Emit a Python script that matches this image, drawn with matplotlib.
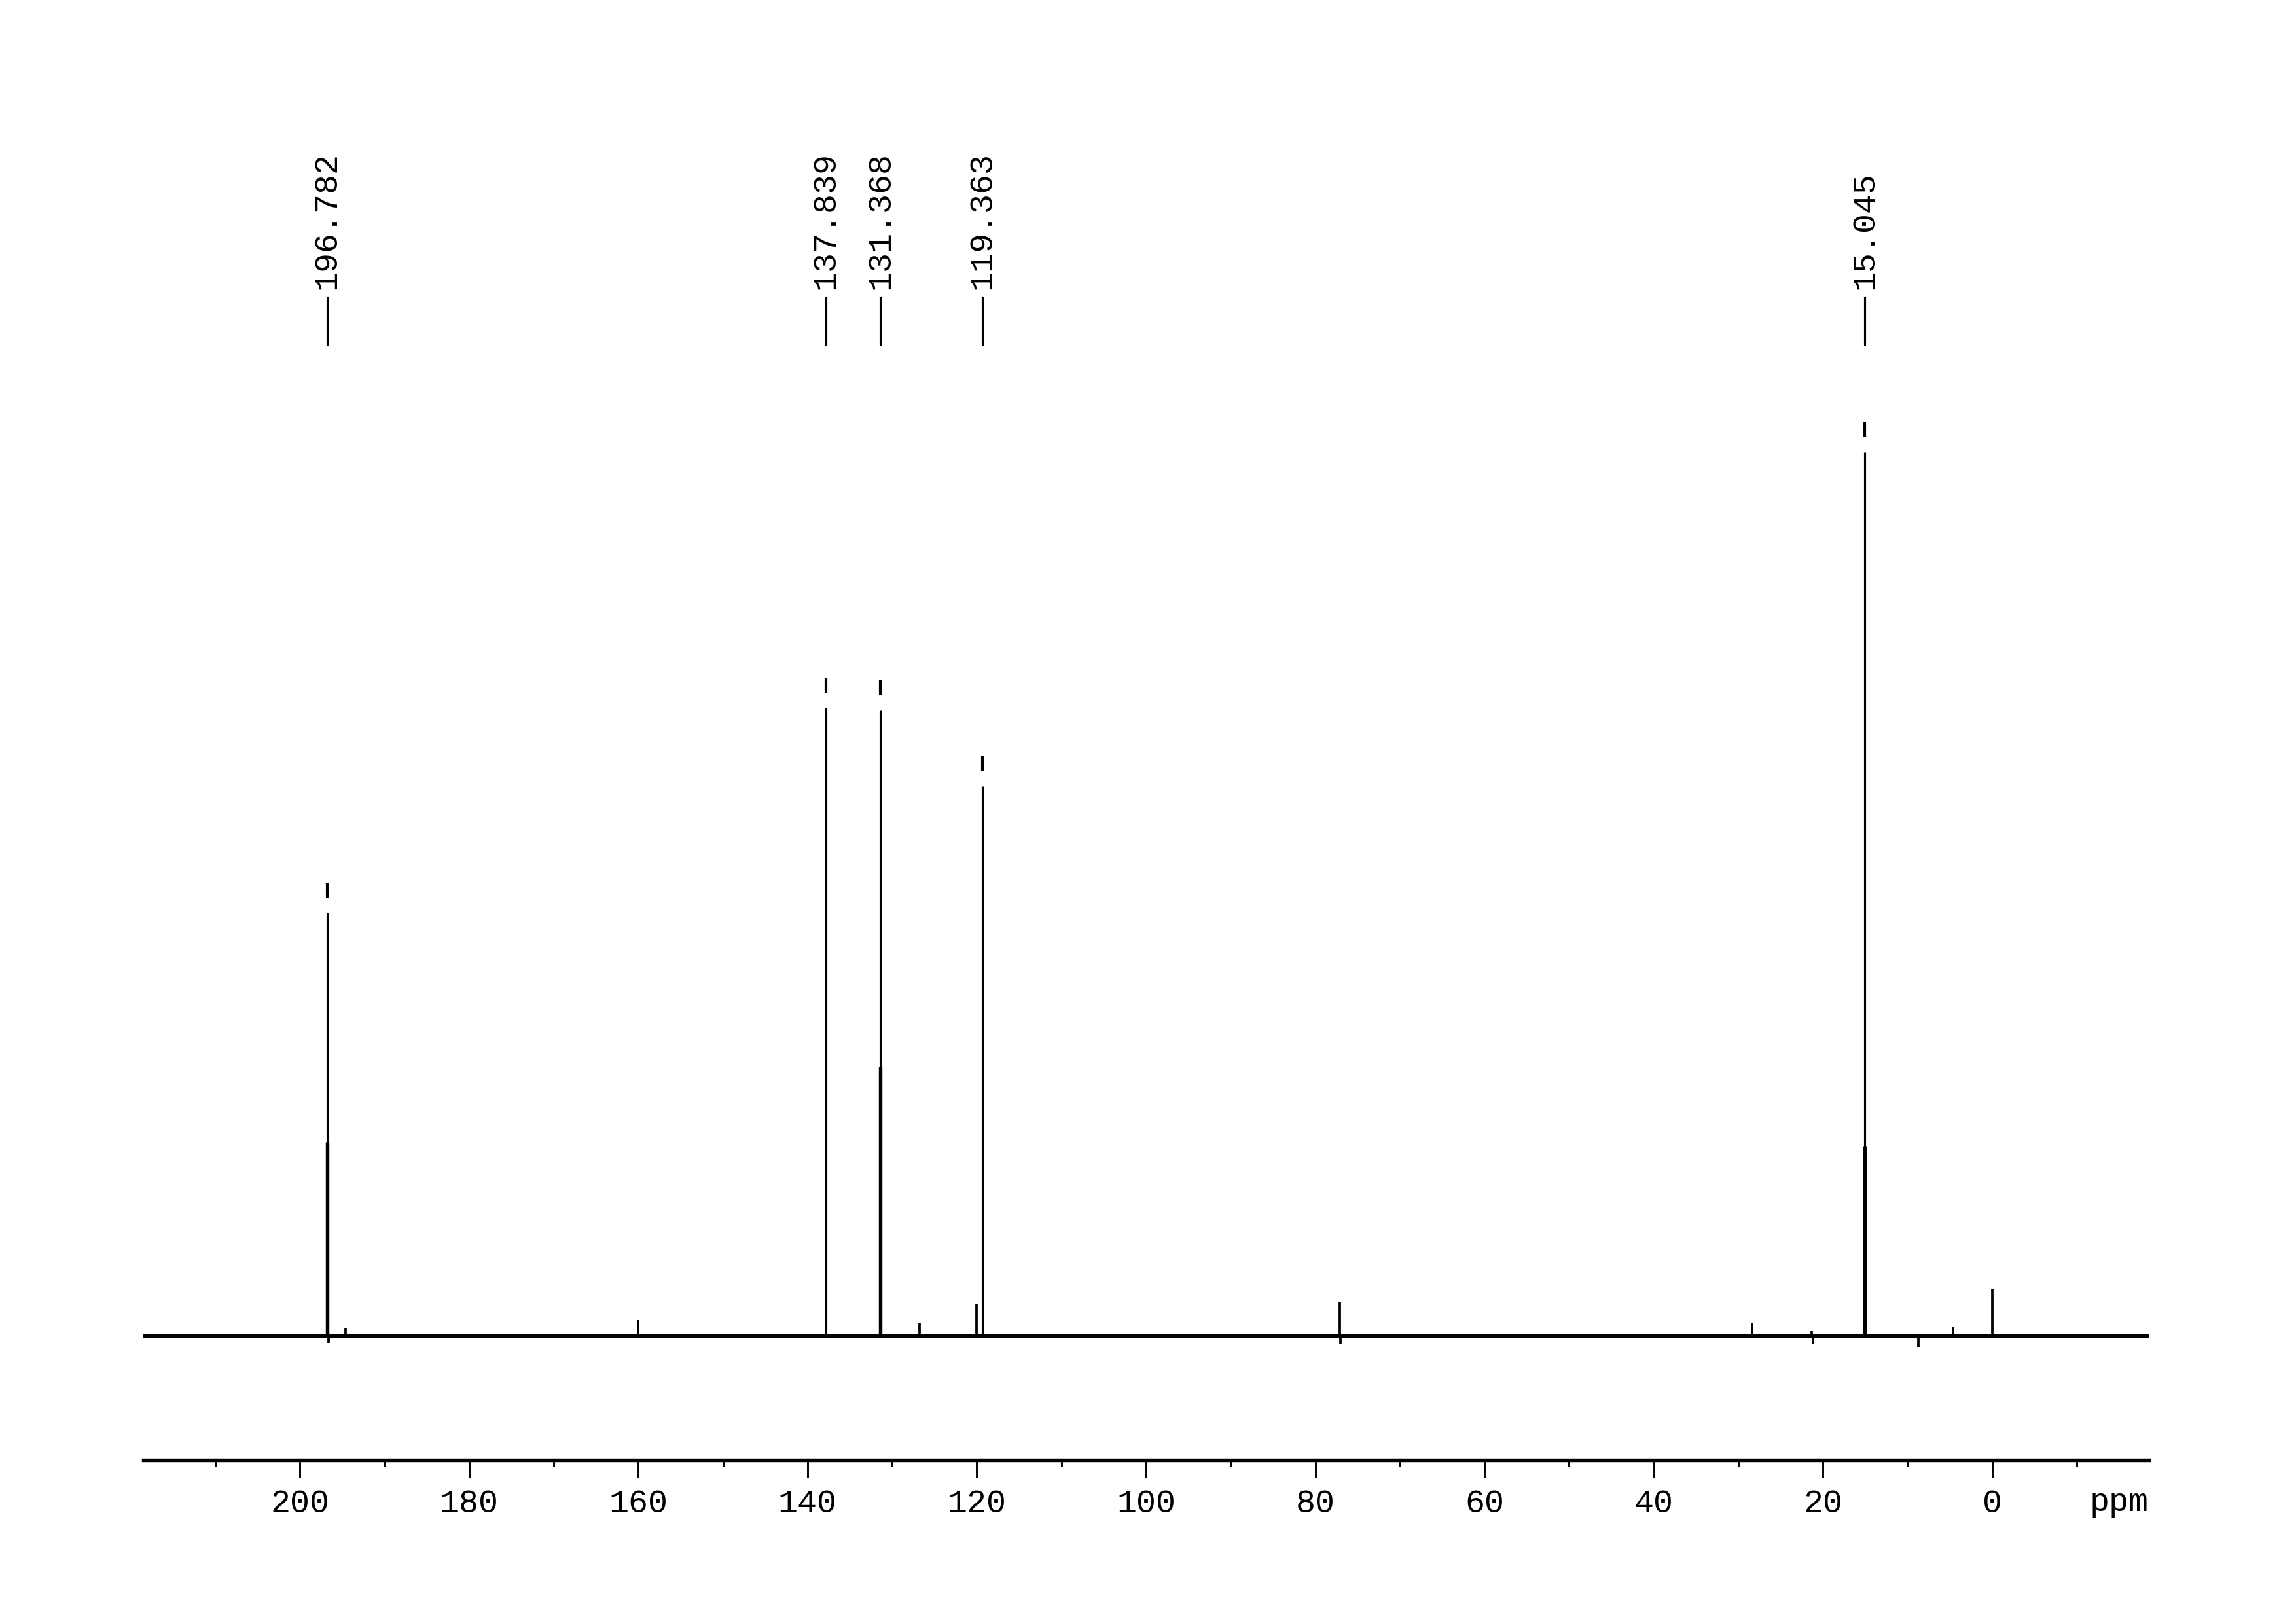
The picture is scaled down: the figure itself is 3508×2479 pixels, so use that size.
import matplotlib
matplotlib.use("Agg")
import matplotlib.pyplot as plt
import matplotlib.transforms as mtransforms
from matplotlib.ticker import MultipleLocator

plt.rcParams["font.family"] = ["Liberation Mono", "DejaVu Sans Mono"]

## Podaci (ocitano sa slike, intenzitet: najvisi pik = 100) ##########

# obelezeni pikovi
peak_ppm = [196.782, 137.839, 131.368, 119.363, 15.045]
peak_int = [47.9, 71.1, 70.8, 62.2, 100.0]

# donji, deblji deo glavnih pikova
base_ppm = [196.782, 131.368, 15.045]
base_int = [21.9, 30.5, 21.4]

# sitni pikovi i negativni "propadi" bazne linije
small_ppm = [196.6, 194.6, 160.0, 126.8, 120.0, 77.1, 77.0, 28.4, 21.2, 21.3, 8.7, 4.6, 0.0]
small_int = [-0.9, 0.8, 1.8, 1.4, 3.6, 3.8, -1.0, 1.4, -1.0, 0.5, -1.3, 1.0, 5.3]

# opseg ose (ppm)
x_left, x_right = 218.5, -18.5

## Grafik ############################

W, H, dpi = 3508, 2479, 300
fig = plt.figure(figsize=(W / dpi, H / dpi), dpi=dpi)

# pozicija ose u pikselima: levo 219, desno 3283, dole 2230, gore 400
ax = fig.add_axes([219 / W, (H - 2230) / H, (3283 - 219) / W, (2230 - 400) / H])

px_per_unit = 13.49
ax.set_xlim(x_left, x_right)
ax.set_ylim(-190 / px_per_unit, 1640 / px_per_unit)

ax.axhline(0, color="k", lw=1.3)
ax.vlines(base_ppm, 0, base_int, color="k", lw=1.3)
ax.vlines(peak_ppm, 0, peak_int, color="k", lw=0.75)
ax.vlines(small_ppm, 0, small_int, color="k", lw=0.9)

# kratka oznaka iznad vrha pika
ax.vlines(peak_ppm, [h + 1.7 for h in peak_int], [h + 3.4 for h in peak_int],
          color="k", lw=1.0)

# oznake pikova na vrhu
trans = mtransforms.blended_transform_factory(ax.transData, fig.transFigure)
for p in peak_ppm:
    ax.plot([p, p], [(H - 526) / H, (H - 454) / H], color="k", lw=0.75,
            transform=trans, clip_on=False)
    ax.text(p, (H - 442) / H, f"{p:.3f}", rotation=90, ha="center",
            va="bottom", fontsize=12, transform=trans)

for s in ["top", "left", "right"]:
    ax.spines[s].set_visible(False)
ax.spines["bottom"].set_linewidth(1.3)
ax.set_yticks([])

ax.xaxis.set_major_locator(MultipleLocator(20))
ax.xaxis.set_minor_locator(MultipleLocator(10))
ax.tick_params(axis="x", which="major", length=6.5, width=0.7, pad=4,
               labelsize=12)
ax.tick_params(axis="x", which="minor", length=2.4, width=0.7)

ax.text(1.0, (H - 2308) / H, "ppm", ha="right", va="baseline", fontsize=12,
        transform=mtransforms.blended_transform_factory(ax.transAxes, fig.transFigure))

fig.savefig("out.png", dpi=dpi)
